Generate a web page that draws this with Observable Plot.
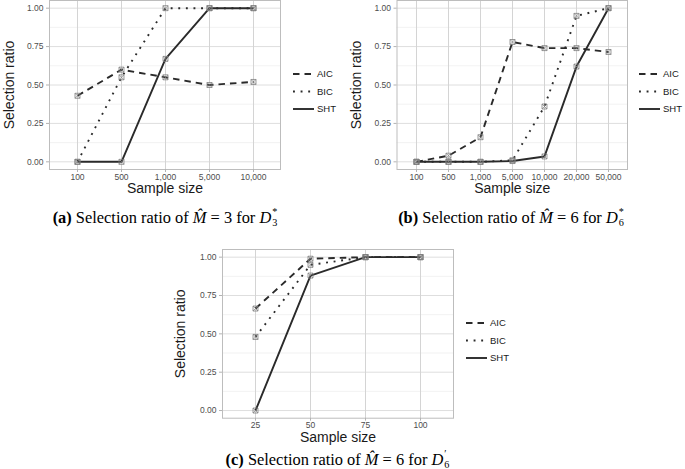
<!DOCTYPE html>
<html><head><meta charset="utf-8">
<script src="https://cdn.jsdelivr.net/npm/d3@7"></script>
<script src="https://cdn.jsdelivr.net/npm/@observablehq/plot@0.6"></script>
<style>
html,body{margin:0;padding:0;background:#fff;}
#root{position:relative;width:685px;height:469px;overflow:hidden;font-family:"Liberation Sans",Arial,sans-serif;}
.abs{position:absolute;}
.cap{position:absolute;font-family:"Liberation Serif","Times New Roman",serif;font-size:16.4px;line-height:16px;white-space:nowrap;transform:translateX(-50%);color:#000;}
.ss{display:inline-block;font-size:10.2px;line-height:11.4px;vertical-align:-3.5px;margin-left:1px;text-align:left;}
</style>
</head><body><div id="root"></div>
<script>
// ---- data ----
const seriesNames = ["AIC", "BIC", "SHT"];

const catsA = ["100", "500", "1,000", "5,000", "10,000"];
const aicA = [0.43, 0.60, 0.55, 0.50, 0.52];
const bicA = [0.00, 0.55, 1.00, 1.00, 1.00];
const shtA = [0.00, 0.00, 0.67, 1.00, 1.00];

const catsB = ["100", "500", "1,000", "5,000", "10,000", "20,000", "50,000"];
const aicB = [0.00, 0.04, 0.16, 0.78, 0.74, 0.74, 0.715];
const bicB = [0.00, 0.00, 0.00, 0.01, 0.36, 0.95, 1.00];
const shtB = [0.00, 0.00, 0.00, 0.005, 0.035, 0.62, 1.00];

const catsC = ["25", "50", "75", "100"];
const aicC = [0.665, 0.99, 1.00, 1.00];
const bicC = [0.48, 0.95, 1.00, 1.00];
const shtC = [0.00, 0.88, 1.00, 1.00];

const yMajor = [0, 0.25, 0.5, 0.75, 1];
const yMinor = [0.125, 0.375, 0.625, 0.875];
const xTitle = "Sample size";
const yTitle = "Selection ratio";

// ---- styles ----
const lineColor = "#2a2a2a";
const lineWidth = 1.9;
const dashes = {AIC: "6.5,5", BIC: "1.9,5.7", SHT: null};
const font = "Liberation Sans, Arial, sans-serif";
const root = document.getElementById("root");

function panel(cfg) {
  const vals = [cfg.aic, cfg.bic, cfg.sht];
  const rows = [];
  seriesNames.forEach((s, i) => cfg.cats.forEach((c, j) => rows.push({series: s, x: c, y: vals[i][j]})));
  const lineMarks = seriesNames.map(s => Plot.line(rows.filter(d => d.series === s), {
    x: "x", y: "y", stroke: lineColor, strokeWidth: lineWidth,
    strokeDasharray: dashes[s] || undefined, strokeLinecap: "butt", strokeLinejoin: "round"
  }));
  const chart = Plot.plot({
    width: cfg.width, height: cfg.height,
    marginLeft: cfg.mL, marginRight: cfg.mR, marginTop: cfg.mT, marginBottom: cfg.mB,
    style: {fontFamily: font, background: "transparent", overflow: "visible"},
    x: {type: "point", domain: cfg.cats, padding: 0.6},
    y: {domain: [-0.05, 1.05]},
    marks: [
      Plot.gridY(yMinor, {stroke: "#ececec", strokeOpacity: 1, strokeWidth: 0.7}),
      Plot.gridY(yMajor, {stroke: "#dedede", strokeOpacity: 1, strokeWidth: 1}),
      Plot.gridX(cfg.cats, {stroke: "#d4d4d4", strokeOpacity: 1, strokeWidth: 1}),
      Plot.frame({stroke: "#bdbdbd", strokeWidth: 1}),
      Plot.axisY(yMajor, {tickSize: 3, tickPadding: 3, stroke: "#b3b3b3", fill: "#4d4d4d",
        fontSize: 8.5, tickFormat: d => d.toFixed(2), label: null}),
      Plot.axisX({tickSize: 3, tickPadding: 1, stroke: "#b3b3b3", fill: "#4d4d4d",
        fontSize: 8.5, label: null}),
      ...lineMarks,
      Plot.dot(rows, {x: "x", y: "y", symbol: "square", r: 2.8, stroke: "#7d7d7d", fill: "none", strokeWidth: 0.8}),
      Plot.dot(rows, {x: "x", y: "y", symbol: "times", r: 2.4, stroke: "#7d7d7d", strokeWidth: 0.7}),
      Plot.text([xTitle], {frameAnchor: "bottom", dy: 19, text: d => d, fontSize: 14, fill: "#1a1a1a",
        lineAnchor: "middle", textAnchor: "middle"}),
      Plot.text([yTitle], {frameAnchor: "left", dx: cfg.ytdx, rotate: -90, text: d => d, fontSize: 14, fill: "#1a1a1a",
        lineAnchor: "middle", textAnchor: "middle"})
    ]
  });
  chart.style.position = "absolute";
  chart.style.left = cfg.left + "px";
  chart.style.top = cfg.top + "px";
  root.appendChild(chart);
}

function legend(x0, yFirst) {
  const svg = d3.select(root).append("svg").attr("class", "abs")
    .style("left", x0 + "px").style("top", (yFirst - 10) + "px")
    .attr("width", 60).attr("height", 60).style("overflow", "visible");
  seriesNames.forEach((s, i) => {
    const y = 10 + i * 17.5;
    svg.append("line").attr("x1", 0).attr("x2", 21).attr("y1", y).attr("y2", y)
      .attr("stroke", lineColor).attr("stroke-width", lineWidth)
      .attr("stroke-dasharray", dashes[s]);
    svg.append("text").attr("x", 24).attr("y", y).attr("dy", "0.35em")
      .attr("font-family", font).attr("font-size", 9.5).attr("fill", "#1a1a1a").text(s);
  });
}

function caption(cx, top, html) {
  const d = document.createElement("div");
  d.className = "cap";
  d.style.left = cx + "px";
  d.style.top = top + "px";
  d.innerHTML = html;
  root.appendChild(d);
}

panel({cats: catsA, aic: aicA, bic: bicA, sht: shtA, left: 0, top: -3, width: 283, height: 200,
  mL: 49, mR: 3, mT: 3, mB: 28, ytdx: -40});
panel({cats: catsB, aic: aicB, bic: bicB, sht: shtB, left: 340, top: -3, width: 290, height: 200,
  mL: 56.5, mR: 3, mT: 3, mB: 28, ytdx: -40.5});
panel({cats: catsC, aic: aicC, bic: bicC, sht: shtC, left: 160, top: 245, width: 296, height: 200,
  mL: 62, mR: 3, mT: 4, mB: 27.3, ytdx: -42});

legend(293, 74);
legend(639, 74);
legend(466, 323);

caption(165, 205.6, '<b>(a)</b> Selection ratio of <i>M̂</i> = 3 for <i>D</i><span class="ss">*<br>3</span>');
caption(511, 205.6, '<b>(b)</b> Selection ratio of <i>M̂</i> = 6 for <i>D</i><span class="ss">*<br>6</span>');
caption(337.5, 447.6, '<b>(c)</b> Selection ratio of <i>M̂</i> = 6 for <i>D</i><span class="ss">′<br>6</span>');
</script>
</body></html>
